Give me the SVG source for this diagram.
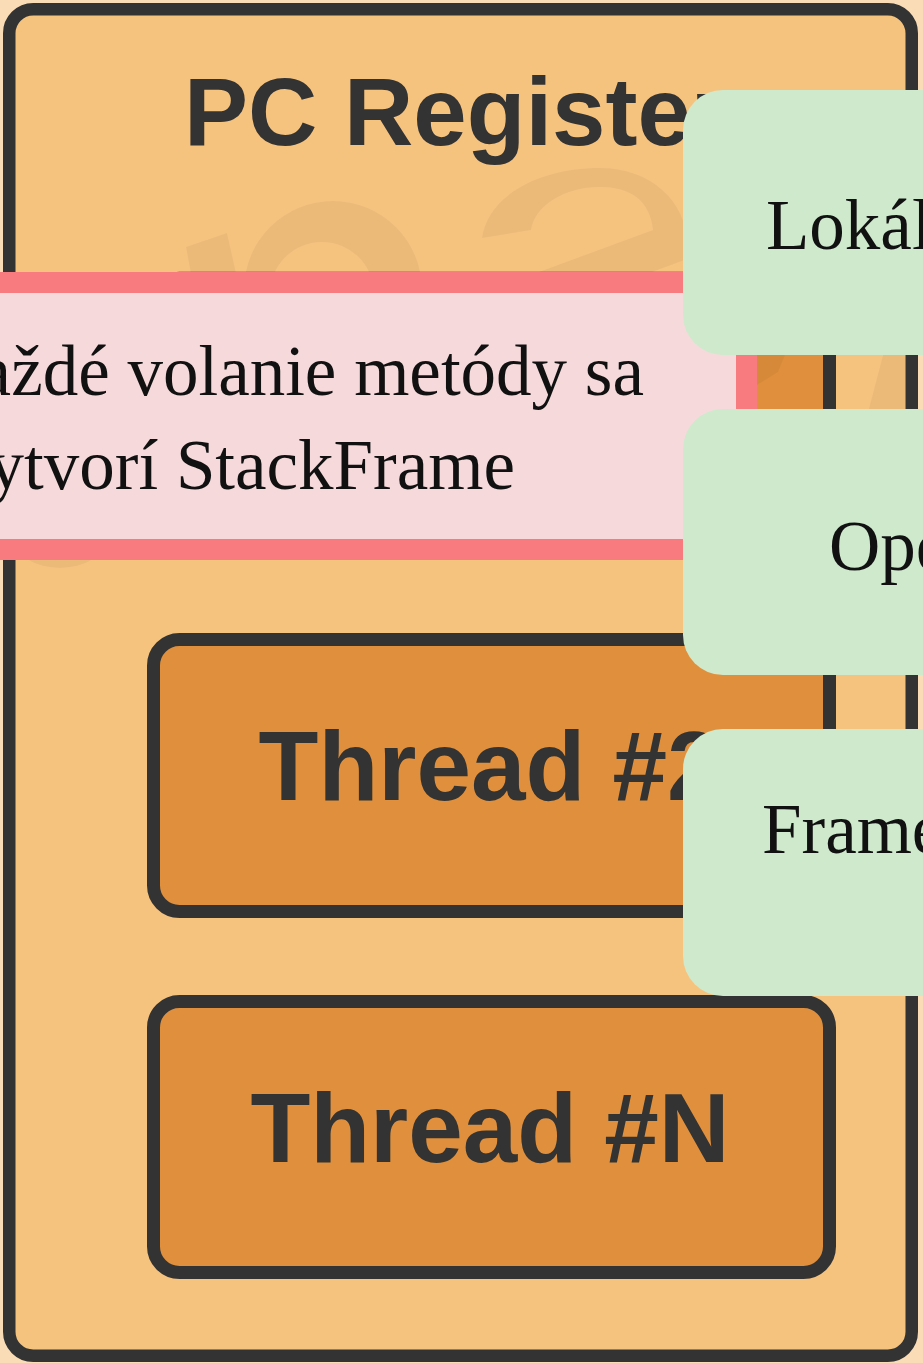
<svg xmlns="http://www.w3.org/2000/svg" width="923" height="1363" viewBox="0 0 923 1363">
  <style>
    .outer { fill: #F6C37F; stroke: #333333; stroke-width: 12.5; }
    .thread { fill: #E0903C; stroke: #333333; stroke-width: 13; }
    .title { font-family: "Liberation Sans", Arial, sans-serif; font-weight: bold; fill: #333333; }
    .note { fill: #F6DADB; stroke: #F87C7F; stroke-width: 21; }
    .serif { font-family: "Liberation Serif", "Times New Roman", serif; font-size: 71px; fill: #111111; }
    .green { fill: #CFE9CD; }
    .wm { fill: #000000; fill-opacity: 0.045; }
  </style>
  <rect x="0" y="0" width="923" height="1363" fill="#FADDB6"/>

  <g id="pc-registers">
    <rect class="outer" x="9.25" y="9.25" width="902.5" height="1346.5" rx="24"/>
    <text class="title" x="184" y="145" font-size="96">PC Registers</text>
  </g>

  <g id="thread-1">
    <rect class="thread" x="153.5" y="278.2" width="676" height="272" rx="26"/>
  </g>
  <g id="thread-2">
    <rect class="thread" x="153.5" y="639.5" width="676" height="272" rx="26"/>
    <text class="title" x="490" y="800" font-size="98" text-anchor="middle">Thread #2</text>
  </g>
  <g id="thread-n">
    <rect class="thread" x="153.5" y="1001.5" width="676" height="271" rx="26"/>
    <text class="title" x="490" y="1162" font-size="98" text-anchor="middle">Thread #N</text>
  </g>

  <g id="watermark">
    <polygon class="wm" points="186,247 227,233 242,300 196,300"/>
    <path class="wm" fill-rule="evenodd" d="M244,290 A89,89 0 1,1 422,290 A89,89 0 1,1 244,290 Z M270,294 A52,52 0 1,0 374,294 A52,52 0 1,0 270,294 Z"/>
    <path class="wm" d="M482,238 C488,195 540,168 600,168 C650,168 686,200 688,245 L690,258 L549,310 L436,310 L539,272 L653,230 C650,200 630,187 600,187 C565,187 535,205 531,230 Z"/>
    <ellipse class="wm" cx="60" cy="540" rx="45" ry="28"/>
    <polygon class="wm" points="887,340 905,340 905,420 866,420"/>
    <polygon class="wm" points="757,355 785,355 778,372 757,385"/>
  </g>

  <g id="note">
    <rect class="note" x="-50" y="282.5" width="796.5" height="267"/>
    <text class="serif" x="644" y="395" text-anchor="end">Každé volanie metódy sa</text>
    <text class="serif" x="515" y="489" text-anchor="end">vytvorí StackFrame</text>
  </g>

  <g id="frame-local">
    <rect class="green" x="683" y="90" width="400" height="265" rx="40"/>
    <text class="serif" x="766" y="249">Lokál</text>
  </g>
  <g id="frame-operand">
    <rect class="green" x="683" y="409" width="400" height="266" rx="40"/>
    <text class="serif" x="829" y="570">Ope</text>
  </g>
  <g id="frame-data">
    <rect class="green" x="683" y="729" width="400" height="267" rx="40"/>
    <text class="serif" x="762" y="853">Frame</text>
  </g>

  <g id="connectors"></g>
</svg>
